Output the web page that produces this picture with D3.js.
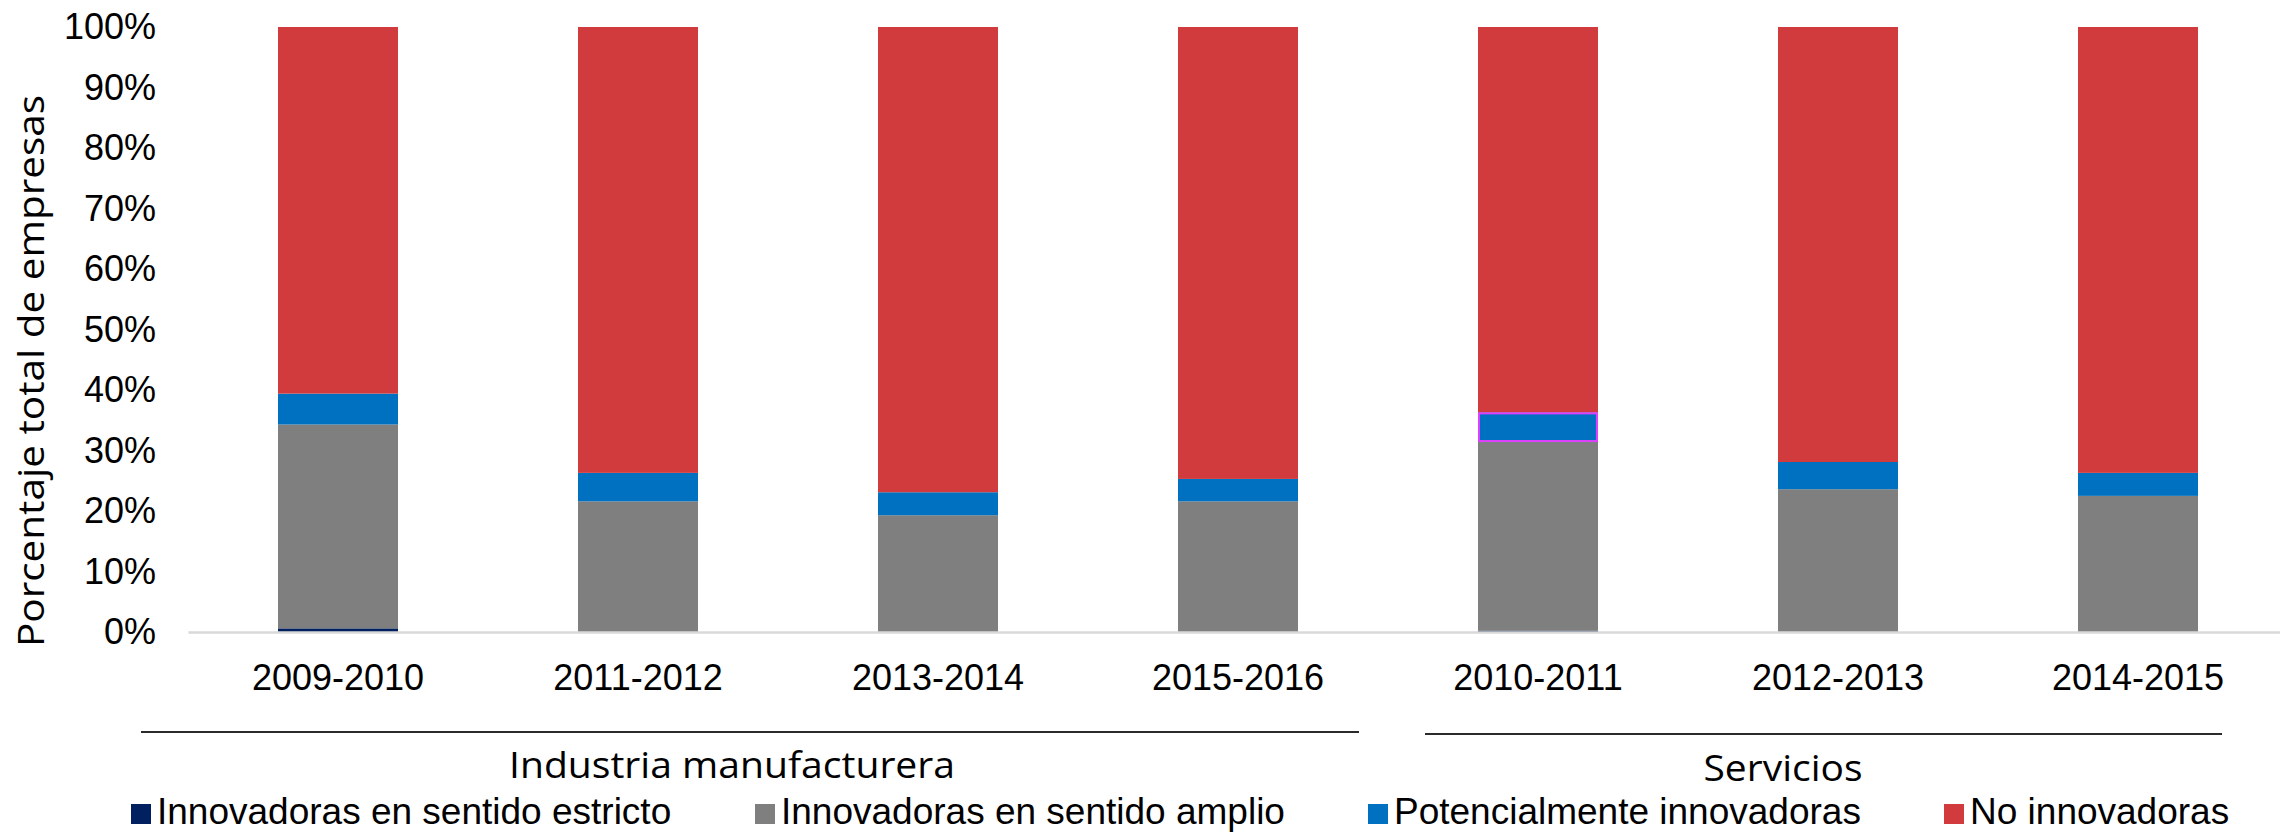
<!DOCTYPE html>
<html>
<head>
<meta charset="utf-8">
<script src="https://cdn.jsdelivr.net/npm/d3@7"></script>
<style>
  html, body { margin: 0; padding: 0; background: #ffffff; }
  svg { display: block; }
</style>
</head>
<body>
<svg id="chart" width="2280" height="832"></svg>
<script>
// ---- data ----
const categories = ["2009-2010", "2011-2012", "2013-2014", "2015-2016", "2010-2011", "2012-2013", "2014-2015"];
const seriesNames = ["Innovadoras en sentido estricto", "Innovadoras en sentido amplio", "Potencialmente innovadoras", "No innovadoras"];
const estricto   = [0.6, 0.0, 0.0, 0.0, 0.2, 0.0, 0.0];
const amplio     = [33.7, 21.6, 19.3, 21.6, 31.2, 23.6, 22.5];
const potencial  = [5.1, 4.7, 3.8, 3.7, 4.9, 4.5, 3.8];
const noInnov    = [60.6, 73.7, 76.9, 74.7, 63.7, 71.9, 73.7];
const yTicks = [0, 0.1, 0.2, 0.3, 0.4, 0.5, 0.6, 0.7, 0.8, 0.9, 1.0];
const groupNames = ["Industria manufacturera", "Servicios"];
const yTitle = "Porcentaje total de empresas";

// ---- styles / layout ----
const colors = ["#002060", "#7F7F7F", "#0070C0", "#D13B3D"];
const W = 2280, H = 832;
const y0 = 632, y1 = 27;
const svg = d3.select("#chart");
svg.append("rect").attr("width", W).attr("height", H).attr("fill", "#ffffff");

const x = d3.scaleBand().domain(categories).range([188, 2288]).paddingInner(0.6).paddingOuter(0.3);
const y = d3.scaleLinear().domain([0, 1]).range([y0, y1]);

// stack
const rows = categories.map((c, i) => ({
  cat: c,
  [seriesNames[0]]: estricto[i] / 100,
  [seriesNames[1]]: amplio[i] / 100,
  [seriesNames[2]]: potencial[i] / 100,
  [seriesNames[3]]: noInnov[i] / 100
}));
const stacked = d3.stack().keys(seriesNames)(rows);

// y axis (labels only)
const yAxis = svg.append("g")
  .attr("transform", `translate(188,0)`)
  .call(d3.axisLeft(y).tickValues(yTicks).tickFormat(d3.format(".0%")).tickSize(0).tickPadding(32));
yAxis.select(".domain").remove();
yAxis.selectAll("text")
  .attr("font-family", "'Liberation Sans', Arial, sans-serif")
  .attr("font-size", 36)
  .attr("fill", "#000");

// bars
const layers = svg.append("g").selectAll("g")
  .data(stacked).join("g")
  .attr("fill", (d, i) => colors[i]);
layers.selectAll("rect")
  .data(d => d.map(v => ({ v, key: d.key })))
  .join("rect")
  .attr("x", d => x(d.v.data.cat))
  .attr("width", x.bandwidth())
  .attr("y", d => y(d.v[1]))
  .attr("height", d => Math.max(0, y(d.v[0]) - y(d.v[1])));

// highlighted segment outline (as in the reference)
const hiCat = categories[4];
const hiSeg = stacked[2].find(s => s.data.cat === hiCat);
svg.append("rect")
  .attr("x", x(hiCat) + 1)
  .attr("width", x.bandwidth() - 2)
  .attr("y", y(hiSeg[1]) + 1)
  .attr("height", y(hiSeg[0]) - y(hiSeg[1]) - 2)
  .attr("fill", "none")
  .attr("stroke", "#E040FB")
  .attr("stroke-width", 2);

// x axis
const xAxis = svg.append("g")
  .attr("transform", `translate(0,${y0})`)
  .call(d3.axisBottom(x).tickSize(0).tickPadding(32));
xAxis.select(".domain").attr("stroke", "#D9D9D9").attr("stroke-width", 2.5);
xAxis.selectAll("text")
  .attr("font-family", "'Liberation Sans', Arial, sans-serif")
  .attr("font-size", 36)
  .attr("fill", "#000");

// y title
svg.append("text")
  .attr("transform", "translate(44,371) rotate(-90)")
  .attr("text-anchor", "middle")
  .attr("font-family", "'Open Sans', sans-serif")
  .attr("font-size", 37)
  .attr("textLength", 552)
  .attr("lengthAdjust", "spacingAndGlyphs")
  .attr("fill", "#000")
  .text(yTitle);

// group separators and labels
const groupLayout = [
  { x1: 141, x2: 1359, ly: 732, cx: 732, by: 778, len: 446 },
  { x1: 1425, x2: 2222, ly: 734, cx: 1783, by: 781, len: 159 }
];
groupNames.forEach((g, i) => {
  const L = groupLayout[i];
  svg.append("line")
    .attr("x1", L.x1).attr("x2", L.x2)
    .attr("y1", L.ly).attr("y2", L.ly)
    .attr("stroke", "#2b2b2b").attr("stroke-width", 1.8);
  svg.append("text")
    .attr("x", L.cx).attr("y", L.by)
    .attr("text-anchor", "middle")
    .attr("font-family", "'Open Sans', sans-serif")
    .attr("font-size", 37)
    .attr("textLength", L.len)
    .attr("lengthAdjust", "spacingAndGlyphs")
    .attr("fill", "#000")
    .text(g);
});

// legend
const legendX = [131, 755, 1368, 1944];
const legend = svg.append("g");
seriesNames.forEach((s, i) => {
  legend.append("rect")
    .attr("x", legendX[i]).attr("y", 804)
    .attr("width", 20).attr("height", 20)
    .attr("fill", colors[i]);
  legend.append("text")
    .attr("x", legendX[i] + 26).attr("y", 824)
    .attr("font-family", "'Liberation Sans', Arial, sans-serif")
    .attr("font-size", 37)
    .attr("fill", "#000")
    .text(s);
});
</script>
</body>
</html>
